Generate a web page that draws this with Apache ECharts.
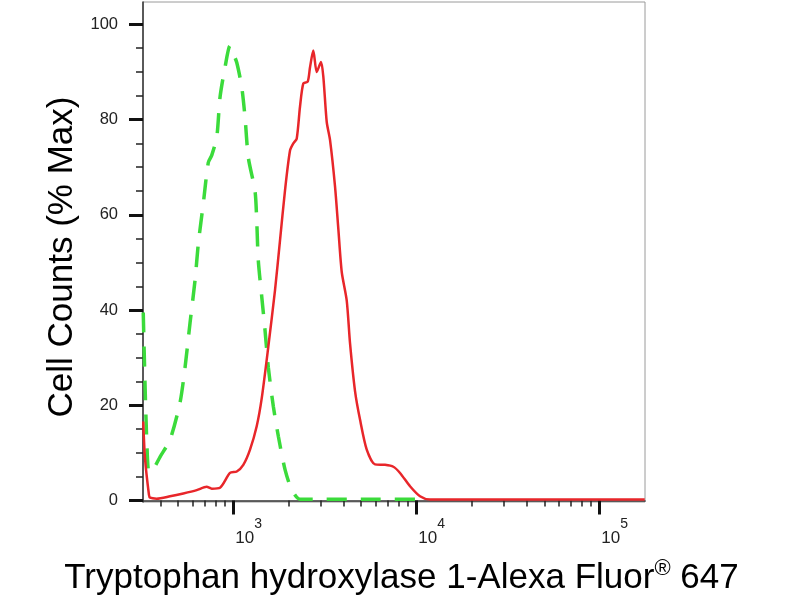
<!DOCTYPE html>
<html>
<head>
<meta charset="utf-8">
<script src="https://cdn.jsdelivr.net/npm/echarts@6/dist/echarts.min.js"></script>
<style>html,body{margin:0;padding:0;background:#fff}#c{width:800px;height:600px}</style>
</head>
<body>
<div id="c"></div>
<script>
// ---- data ----
const redX = [322, 329, 346, 351, 381, 451, 533, 631, 715, 762, 846, 959, 1044, 1134, 1234, 1342, 1430, 1553, 1690, 1800, 1917, 2041, 2128, 2220, 2314, 2413, 2551, 2625, 2736, 2856, 3015, 3104, 3239, 3377, 3595, 3749, 3912, 4166, 4343, 4624, 4924, 5358, 5948, 6745, 7487, 8145, 9238, 10476, 11882, 20000, 50000, 100000, 177000];
const redY = [16.6, 9, 1.2, 0.6, 0.4, 0.9, 1.5, 2.2, 2.9, 2.5, 2.7, 5.8, 6.1, 7.5, 10.7, 15.6, 21.5, 32.3, 44.2, 54.7, 65.2, 73.5, 75, 76, 82.7, 87.6, 88, 91, 94.5, 90, 92.1, 89, 79.5, 75.7, 66, 57, 48, 42, 33, 23, 17, 10.7, 7.6, 7.5, 7.1, 5.8, 3, 0.9, 0.2, 0.2, 0.2, 0.2, 0.2];
const greenX = [322, 329, 337, 346, 364, 398, 451, 511, 545, 580, 618, 644, 686, 730, 762, 812, 846, 901, 959, 996, 1044, 1111, 1158, 1208, 1314, 1342, 1369, 1430, 1490, 1553, 1654, 1762, 1917, 2085, 2314, 5000, 11000];
const greenY = [39.5, 25, 12, 6, 6.5, 9.2, 12.8, 20.5, 28, 37.3, 46.3, 54, 62.5, 71, 72.5, 76.3, 84.7, 91, 95.5, 94, 92, 86.9, 80.6, 72, 65, 59, 50.5, 42.8, 35.8, 28, 19.8, 13.5, 6.5, 2.3, 0.3, 0.3, 0.3];
const xMajorTicks = [1000, 10000, 100000];
const xMinorTicks = [400, 500, 600, 700, 800, 900, 2000, 3000, 4000, 5000, 6000, 7000, 8000, 9000, 20000, 30000, 40000, 50000, 60000, 70000, 80000, 90000];
const yMajorTicks = [0, 20, 40, 60, 80, 100];
const yMinorTicks = [5, 10, 15, 25, 30, 35, 45, 50, 55, 65, 70, 75, 85, 90, 95];
const xTitle = 'Tryptophan hydroxylase 1-Alexa Fluor{r|®} 647';
const yTitle = 'Cell Counts (% Max)';

const pair = (xs, ys) => xs.map((x, i) => [x, ys[i]]);
const sans = "'Liberation Sans', Arial, Helvetica, sans-serif";
const X_MIN = 321, X_MAX = 177600, Y_MIN = -0.3, Y_MAX = 104.7;

const chart = echarts.init(document.getElementById('c'), null, {renderer: 'canvas'});
chart.setOption({
  animation: false,
  backgroundColor: '#fff',
  grid: {left: 143, right: 155, top: 2, bottom: 98, show: true, borderColor: '#9a9a9a', borderWidth: 1, containLabel: false, outerBoundsMode: 'none'},
  xAxis: [{
    type: 'log', logBase: 10, min: X_MIN, max: X_MAX, position: 'bottom',
    axisLine: {show: true, lineStyle: {color: '#333', width: 1.5}},
    axisTick: {show: true, customValues: xMajorTicks, length: 14, lineStyle: {color: '#111', width: 3}},
    axisLabel: {
      show: true, customValues: xMajorTicks, margin: 15, align: 'left',
      formatter: v => '{b|10}{s|' + Math.round(Math.log10(v)) + '}',
      rich: {
        b: {fontSize: 17, fontFamily: sans, color: '#222', verticalAlign: 'bottom', lineHeight: 30, padding: [0, 0, 0, 2]},
        s: {fontSize: 14, fontFamily: sans, color: '#222', verticalAlign: 'top', lineHeight: 30}
      }
    },
    splitLine: {show: false}, minorTick: {show: false},
    name: xTitle, nameLocation: 'middle', nameGap: 56,
    nameTextStyle: {fontSize: 35, fontFamily: sans, color: '#000', padding: [0, 0, 0, 15],
      rich: {r: {fontSize: 22, fontFamily: sans, color: '#000', verticalAlign: 'top', lineHeight: 40}}}
  }, {
    type: 'log', logBase: 10, min: X_MIN, max: X_MAX, position: 'bottom', offset: 0,
    axisLine: {show: false},
    axisTick: {show: true, customValues: xMinorTicks, length: 6, lineStyle: {color: '#222', width: 1.5}},
    axisLabel: {show: false}, splitLine: {show: false}
  }],
  yAxis: [{
    type: 'value', min: Y_MIN, max: Y_MAX, position: 'left',
    axisLine: {show: true, lineStyle: {color: '#333', width: 1.5}},
    axisTick: {show: true, customValues: yMajorTicks, length: 14, lineStyle: {color: '#111', width: 3}},
    axisLabel: {show: true, customValues: yMajorTicks, margin: 25, fontSize: 16.5, fontFamily: sans, color: '#222'},
    splitLine: {show: false},
    name: yTitle, nameLocation: 'middle', nameGap: 40, nameRotate: 90,
    nameTextStyle: {fontSize: 35, fontFamily: sans, color: '#000', padding: [0, 10, 0, 0]}
  }, {
    type: 'value', min: Y_MIN, max: Y_MAX, position: 'left', offset: 0,
    axisLine: {show: false},
    axisTick: {show: true, customValues: yMinorTicks, length: 7, lineStyle: {color: '#222', width: 1.5}},
    axisLabel: {show: false}, splitLine: {show: false}
  }],
  series: [{
    type: 'line', name: 'control', xAxisIndex: 0, yAxisIndex: 0,
    data: pair(greenX, greenY), showSymbol: false, smooth: 0.25,
    lineStyle: {color: '#3bdb3b', width: 3.5, type: [20, 14]}, z: 2
  }, {
    type: 'line', name: 'sample', xAxisIndex: 0, yAxisIndex: 0,
    data: pair(redX, redY), showSymbol: false, smooth: 0.25,
    lineStyle: {color: '#e8262a', width: 2.5}, z: 3
  }]
});
</script>
</body>
</html>
